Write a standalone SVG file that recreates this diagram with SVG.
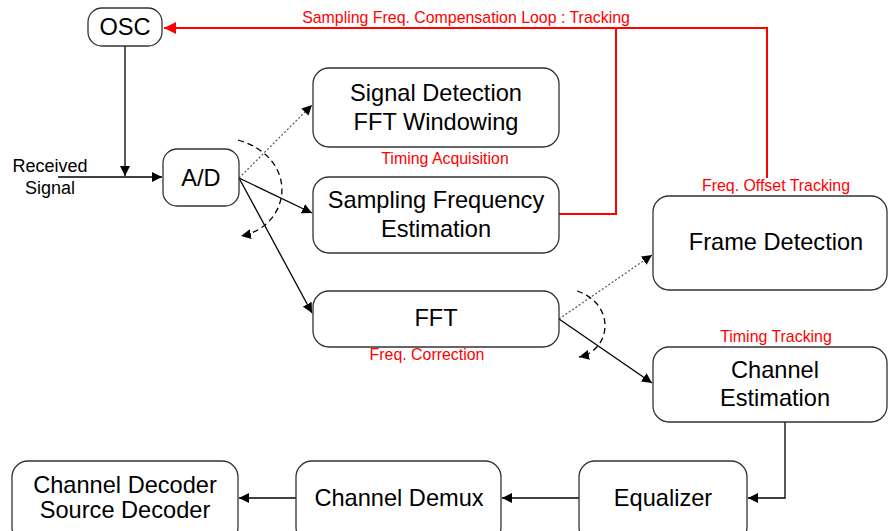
<svg xmlns="http://www.w3.org/2000/svg" width="888" height="531" viewBox="0 0 888 531">
<defs>
<style>
.box{fill:#fff;stroke:#333;stroke-width:1.3}
.t{font-family:"Liberation Sans",Arial,sans-serif;font-size:23.6px;fill:#000;text-anchor:middle}
.r{font-family:"Liberation Sans",Arial,sans-serif;font-size:15.9px;fill:#f00;text-anchor:middle}
.s{font-family:"Liberation Sans",Arial,sans-serif;font-size:18px;fill:#000;text-anchor:middle}
.ln{fill:none;stroke:#000;stroke-width:1.3}
.dot{fill:none;stroke:#555;stroke-width:1.2;stroke-dasharray:2,2}
.dash{fill:none;stroke:#000;stroke-width:1.3;stroke-dasharray:6,4}
.red{fill:none;stroke:#f00;stroke-width:2}
</style>
<marker id="ah" viewBox="0 0 10 10" refX="10" refY="5" markerWidth="10" markerHeight="10" markerUnits="userSpaceOnUse" orient="auto">
<path d="M0,0 L10,5 L0,10 z" fill="#000"/>
</marker>
<marker id="ahr" viewBox="0 0 10 10" refX="10" refY="5" markerWidth="12" markerHeight="12" markerUnits="userSpaceOnUse" orient="auto">
<path d="M0,0 L10,5 L0,10 z" fill="#f00"/>
</marker>
</defs>
<rect width="888" height="531" fill="#fff"/>

<g id="connectors">
<path class="red" d="M559,214 H616 V28 M767,178 V28 H164" marker-end="url(#ahr)"/>
<path class="ln" d="M125,46 V176" marker-end="url(#ah)"/>
<path class="ln" d="M58,177 H162" marker-end="url(#ah)"/>
<path class="dot" d="M239,178 L312,105" marker-end="url(#ah)"/>
<path class="ln" d="M239,178 L312,213" marker-end="url(#ah)"/>
<path class="ln" d="M239,178 L312,313" marker-end="url(#ah)"/>
<path class="dash" d="M238,140 C300,158 292,226 241,236" marker-end="url(#ah)"/>
<path class="dot" d="M559,319 L652,255" marker-end="url(#ah)"/>
<path class="ln" d="M559,319 L652,383" marker-end="url(#ah)"/>
<path class="dash" d="M577,291 C616,304 612,350 579,357" marker-end="url(#ah)"/>
<path class="ln" d="M785,422 V498 H748" marker-end="url(#ah)"/>
<path class="ln" d="M579,498 H502" marker-end="url(#ah)"/>
<path class="ln" d="M296,498 H239" marker-end="url(#ah)"/>
</g>

<g id="osc"><rect class="box" x="88" y="8" width="74" height="38" rx="14"/><text class="t" x="125" y="35">OSC</text></g>
<g id="received"><text class="s" x="50" y="172">Received</text><text class="s" x="50" y="194">Signal</text></g>
<g id="ad"><rect class="box" x="163" y="149" width="76" height="57" rx="14"/><text class="t" x="201" y="186">A/D</text></g>
<g id="sigdet"><rect class="box" x="313" y="68" width="246" height="79" rx="16"/><text class="t" x="436" y="101">Signal Detection</text><text class="t" x="436" y="130">FFT Windowing</text></g>
<g id="sfe"><rect class="box" x="313" y="177" width="246" height="76" rx="16"/><text class="t" x="436" y="208">Sampling Frequency</text><text class="t" x="436" y="237">Estimation</text></g>
<g id="fft"><rect class="box" x="313" y="291" width="246" height="56" rx="16"/><text class="t" x="436" y="326">FFT</text></g>
<g id="framedet"><rect class="box" x="653" y="196" width="234" height="94" rx="16"/><text class="t" x="776" y="250">Frame Detection</text></g>
<g id="chest"><rect class="box" x="653" y="347" width="234" height="75" rx="16"/><text class="t" x="775" y="378">Channel</text><text class="t" x="775" y="406">Estimation</text></g>
<g id="equalizer"><rect class="box" x="579" y="461" width="168" height="82" rx="16"/><text class="t" x="663" y="506">Equalizer</text></g>
<g id="demux"><rect class="box" x="296" y="461" width="205" height="82" rx="16"/><text class="t" x="399" y="506">Channel Demux</text></g>
<g id="decoder"><rect class="box" x="12" y="461" width="226" height="82" rx="16"/><text class="t" x="125" y="493">Channel Decoder</text><text class="t" x="125" y="518">Source Decoder</text></g>

<g id="labels">
<text class="r" x="466" y="23">Sampling Freq. Compensation Loop : Tracking</text>
<text class="r" x="445" y="164">Timing Acquisition</text>
<text class="r" x="776" y="191">Freq. Offset Tracking</text>
<text class="r" x="427" y="360">Freq. Correction</text>
<text class="r" x="776" y="342">Timing Tracking</text>
</g>
</svg>
